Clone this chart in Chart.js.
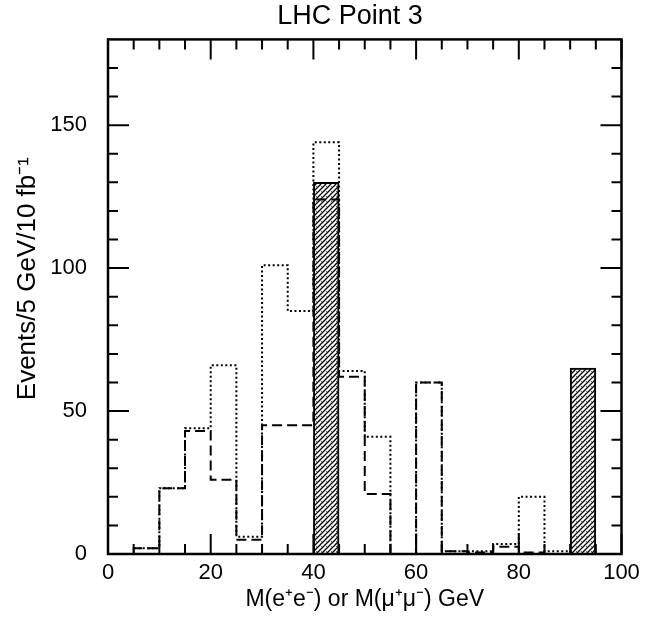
<!DOCTYPE html>
<html>
<head>
<meta charset="utf-8">
<title>LHC Point 3</title>
<script src="https://cdn.jsdelivr.net/npm/chart.js@4.4.1/dist/chart.umd.min.js"></script>
<style>
    html, body { margin: 0; padding: 0; background: #fff; }
    #wrap { width: 667px; height: 620px; }
</style>
</head>
<body>
<div id="wrap"><canvas id="hist-chart" width="667" height="620"></canvas></div>
<script>
// --- Data (5 GeV bins, 0..100 GeV) ---
const binEdges = [0, 5, 10, 15, 20, 25, 30, 35, 40, 45, 50, 55, 60, 65, 70, 75, 80, 85, 90, 95, 100];

// dotted histogram (upper curve)
const dottedCounts = [0, 2, 23, 44, 66, 6, 101, 85, 144, 64, 41, 0, 60, 1, 1, 3.5, 20, 1, 0, 0];
// dashed histogram (lower curve)
const dashedCounts = [0, 2, 23, 43, 26, 5, 45, 45, 124, 62, 21, 0, 60, 1, 0.5, 2.5, 0.5, 0, 0, 0];
// hatched bins
const hatchedCounts = [0, 0, 0, 0, 0, 0, 0, 0, 130, 0, 0, 0, 0, 0, 0, 0, 0, 0, 65, 0];

// axis ticks
const xTickLabels = [0, 20, 40, 60, 80, 100];
const xMinorTicks = [0, 5, 10, 15, 20, 25, 30, 35, 40, 45, 50, 55, 60, 65, 70, 75, 80, 85, 90, 95, 100];
const yTickLabels = [0, 50, 100, 150];
const yMinorTicks = [10, 20, 30, 40, 50, 60, 70, 80, 90, 100, 110, 120, 130, 140, 150, 160, 170];

const FONT = "'Liberation Sans', Arial, Helvetica, sans-serif";

// step outline: one point per left edge, plus the closing right edge
function stepPoints(counts) {
    const pts = counts.map((v, i) => ({ x: binEdges[i], y: v }));
    pts.push({ x: binEdges[counts.length], y: counts[counts.length - 1] });
    return pts;
}

// bars sit at bin centres
function barPoints(counts) {
    return counts.map((v, i) => ({ x: (binEdges[i] + binEdges[i + 1]) / 2, y: v }));
}

// diagonal hatching with a light stipple
function makeHatchPattern() {
    const c = document.createElement('canvas');
    c.width = 5;
    c.height = 5;
    const g = c.getContext('2d');
    g.fillStyle = '#fff';
    g.fillRect(0, 0, 5, 5);
    g.strokeStyle = '#000';
    g.lineWidth = 1.3;
    g.beginPath();
    g.moveTo(-1, 6); g.lineTo(6, -1);
    g.moveTo(-1, 1); g.lineTo(1, -1);
    g.moveTo(4, 6); g.lineTo(6, 4);
    g.stroke();
    g.fillStyle = '#666';
    g.fillRect(1, 1, 1, 1);
    return g.createPattern(c, 'repeat');
}

// frame + inward ticks on all four sides
const frameTicksPlugin = {
    id: 'frameTicks',
    afterDatasetsDraw(chart) {
        const { ctx, chartArea: a, scales } = chart;
        const xs = scales.x;
        const ys = scales.y;
        ctx.save();
        ctx.strokeStyle = '#000';
        ctx.lineWidth = 2;
        ctx.beginPath();
        xMinorTicks.forEach(v => {
            const px = xs.getPixelForValue(v);
            const len = xTickLabels.includes(v) ? 20 : 10;
            ctx.moveTo(px, a.bottom); ctx.lineTo(px, a.bottom - len);
            ctx.moveTo(px, a.top); ctx.lineTo(px, a.top + len);
        });
        yMinorTicks.forEach(v => {
            const py = ys.getPixelForValue(v);
            const len = yTickLabels.includes(v) ? 21 : 10;
            ctx.moveTo(a.left, py); ctx.lineTo(a.left + len, py);
            ctx.moveTo(a.right, py); ctx.lineTo(a.right - len, py);
        });
        ctx.stroke();
        ctx.lineWidth = 2.5;
        ctx.strokeRect(a.left, a.top, a.right - a.left, a.bottom - a.top);
        ctx.restore();
    }
};

const ctx = document.getElementById('hist-chart').getContext('2d');

const histChart = new Chart(ctx, {
    data: {
        datasets: [
            {
                type: 'bar',
                label: 'hatched',
                data: barPoints(hatchedCounts),
                backgroundColor: makeHatchPattern(),
                borderColor: '#000',
                borderWidth: 2,
                borderSkipped: 'bottom',
                barPercentage: 1,
                categoryPercentage: 1,
                order: 2
            },
            {
                type: 'line',
                label: 'dashed',
                data: stepPoints(dashedCounts),
                stepped: 'before',
                borderColor: '#000',
                borderWidth: 2,
                borderDash: [10, 5],
                pointRadius: 0,
                fill: false,
                order: 1
            },
            {
                type: 'line',
                label: 'dotted',
                data: stepPoints(dottedCounts),
                stepped: 'before',
                borderColor: '#000',
                borderWidth: 2,
                borderDash: [2, 2.5],
                pointRadius: 0,
                fill: false,
                order: 0
            }
        ]
    },
    options: {
        responsive: false,
        animation: false,
        layout: { padding: { left: 12, right: -21, top: 0, bottom: 0 } },
        plugins: {
            legend: { display: false },
            tooltip: { enabled: false },
            title: {
                display: true,
                text: 'LHC Point 3',
                color: '#000',
                font: { family: FONT, size: 27, weight: 'normal' },
                padding: { top: 0, bottom: 7 }
            }
        },
        scales: {
            x: {
                type: 'linear',
                position: 'bottom',
                min: 0,
                max: 100,
                offset: false,
                afterBuildTicks: s => { s.ticks = xTickLabels.map(v => ({ value: v })); },
                afterFit: s => { s.height = 66; },
                grid: { display: false, drawTicks: false, offset: false },
                border: { display: false },
                ticks: { color: '#000', padding: 6, maxRotation: 0, font: { family: FONT, size: 22 } },
                title: {
                    display: true,
                    text: 'M(e\u207Ae\u207B) or M(\u03BC\u207A\u03BC\u207B) GeV',
                    color: '#000',
                    font: { family: FONT, size: 23 },
                    padding: { top: 0, bottom: 7 }
                }
            },
            y: {
                type: 'linear',
                position: 'left',
                min: 0,
                max: 180,
                afterBuildTicks: s => { s.ticks = yTickLabels.map(v => ({ value: v })); },
                afterFit: s => { s.width = 96; },
                grid: { display: false, drawTicks: false },
                border: { display: false },
                ticks: { color: '#000', padding: 21, font: { family: FONT, size: 22 } },
                title: {
                    display: true,
                    // leading spaces nudge the label up, as in the original
                    text: '     Events/5 GeV/10 fb\u207B\u00B9',
                    color: '#000',
                    font: { family: FONT, size: 26 },
                    padding: { top: 0, bottom: 0 }
                }
            },
            y2: {
                type: 'linear',
                position: 'right',
                min: 0,
                max: 180,
                afterFit: s => { s.width = 66.5; },
                grid: { display: false, drawTicks: false },
                border: { display: false },
                ticks: { display: false }
            }
        }
    },
    plugins: [frameTicksPlugin]
});
</script>
</body>
</html>
